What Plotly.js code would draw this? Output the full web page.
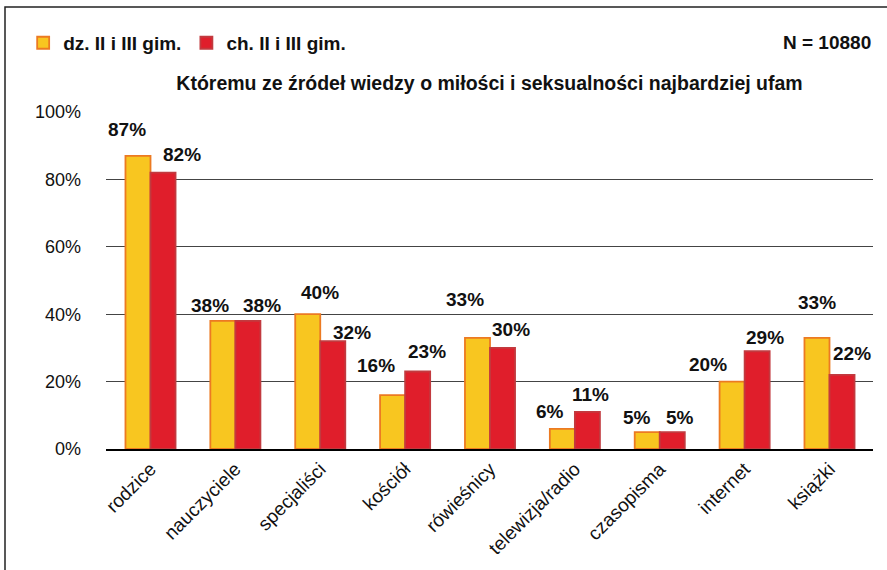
<!DOCTYPE html>
<html><head><meta charset="utf-8">
<script src="https://cdn.plot.ly/plotly-3.0.1.min.js"></script>
<style>html,body{margin:0;padding:0;background:#fff}#chart{width:887px;height:570px}</style>
</head><body><div id="chart"></div>
<script>
const categories = ["rodzice","nauczyciele","specjaliści","kościół","rówieśnicy","telewizja/radio","czasopisma","internet","książki"];
const girls = [87,38,40,16,33,6,5,20,33];
const boys = [82,38,32,23,30,11,5,29,22];
const seriesNames = ["dz. II i III gim.","ch. II i III gim."];
const yTicks = [0,20,40,60,80,100];
const yTickText = ["0%","20%","40%","60%","80%","100%"];
// label offsets in px (tuning of label placement relative to bar top/centre)
const girlsDx = [-11,-13,12,-17,-13,-12,-10,-24,0];
const girlsDy = [26,15,22,30,38,17,15,17,35];
const boysDx = [19,14,19,9,8,3,8,8,10];
const boysDy = [18,15,9,20,18,17,15,14,21];

const font = "Liberation Sans, Arial, sans-serif";
const traces = [
  {type:"bar", name:"<b>"+seriesNames[0]+"</b>", x:categories, y:girls,
   marker:{color:"#F8C620", line:{color:"#EC7A22", width:1.8}}, hoverinfo:"skip"},
  {type:"bar", name:"<b>"+seriesNames[1]+"</b>", x:categories, y:boys,
   marker:{color:"#E01E2B", line:{color:"#C23A3F", width:1.8}}, hoverinfo:"skip"}
];
const annotations = [];
const half = 12.5;
categories.forEach((c,i)=>{
  annotations.push({x:c, y:girls[i], xref:"x", yref:"y", text:"<b>"+girls[i]+"%</b>", showarrow:false,
    xshift:-half+girlsDx[i], yshift:girlsDy[i], yanchor:"middle",
    font:{family:font, size:19, color:"#111"}});
  annotations.push({x:c, y:boys[i], xref:"x", yref:"y", text:"<b>"+boys[i]+"%</b>", showarrow:false,
    xshift:half+boysDx[i], yshift:boysDy[i], yanchor:"middle",
    font:{family:font, size:19, color:"#111"}});
});
annotations.push({xref:"paper", yref:"paper", x:1, y:1.205, xanchor:"right", yanchor:"middle",
  text:"<b>N = 10880</b>", showarrow:false, font:{family:font, size:19, color:"#111"}});

const layout = {
  width:887, height:570,
  margin:{l:106, r:14, t:112, b:121},
  paper_bgcolor:"#fff", plot_bgcolor:"#fff",
  font:{family:font, color:"#111"},
  title:{text:"<b>Któremu ze źródeł wiedzy o miłości i seksualności najbardziej ufam</b>",
    x:0.5, xref:"paper", y:1-83/570, yref:"container", yanchor:"middle",
    font:{family:font, size:19.5, color:"#111"}},
  barmode:"group", bargap:0.41, bargroupgap:0,
  showlegend:true,
  legend:{orientation:"h", x:-0.108, xanchor:"left", y:1.205, yanchor:"middle",
    font:{family:font, size:19, color:"#111"}, itemwidth:30,
    bgcolor:"rgba(0,0,0,0)", traceorder:"normal"},
  xaxis:{type:"category", tickangle:-45, showgrid:false, showline:true, linecolor:"#000", linewidth:1.5,
    ticks:"", tickfont:{family:font, size:19, color:"#111"}, fixedrange:true},
  yaxis:{range:[0,100], tickvals:yTicks, ticktext:yTickText, showgrid:true, gridcolor:"#444", gridwidth:1,
    zeroline:false, showline:false, ticks:"", ticklabelstandoff:24,
    tickfont:{family:font, size:18, color:"#111"}, fixedrange:true},
  annotations:annotations,
  shapes:[{type:"rect", xref:"paper", yref:"paper", x0:-101/767, x1:1.1, y0:-0.5, y1:1+105/337,
    line:{color:"#222", width:1.5}, fillcolor:"rgba(0,0,0,0)", layer:"below"}]
};
Plotly.newPlot("chart", traces, layout, {staticPlot:true});
</script></body></html>
